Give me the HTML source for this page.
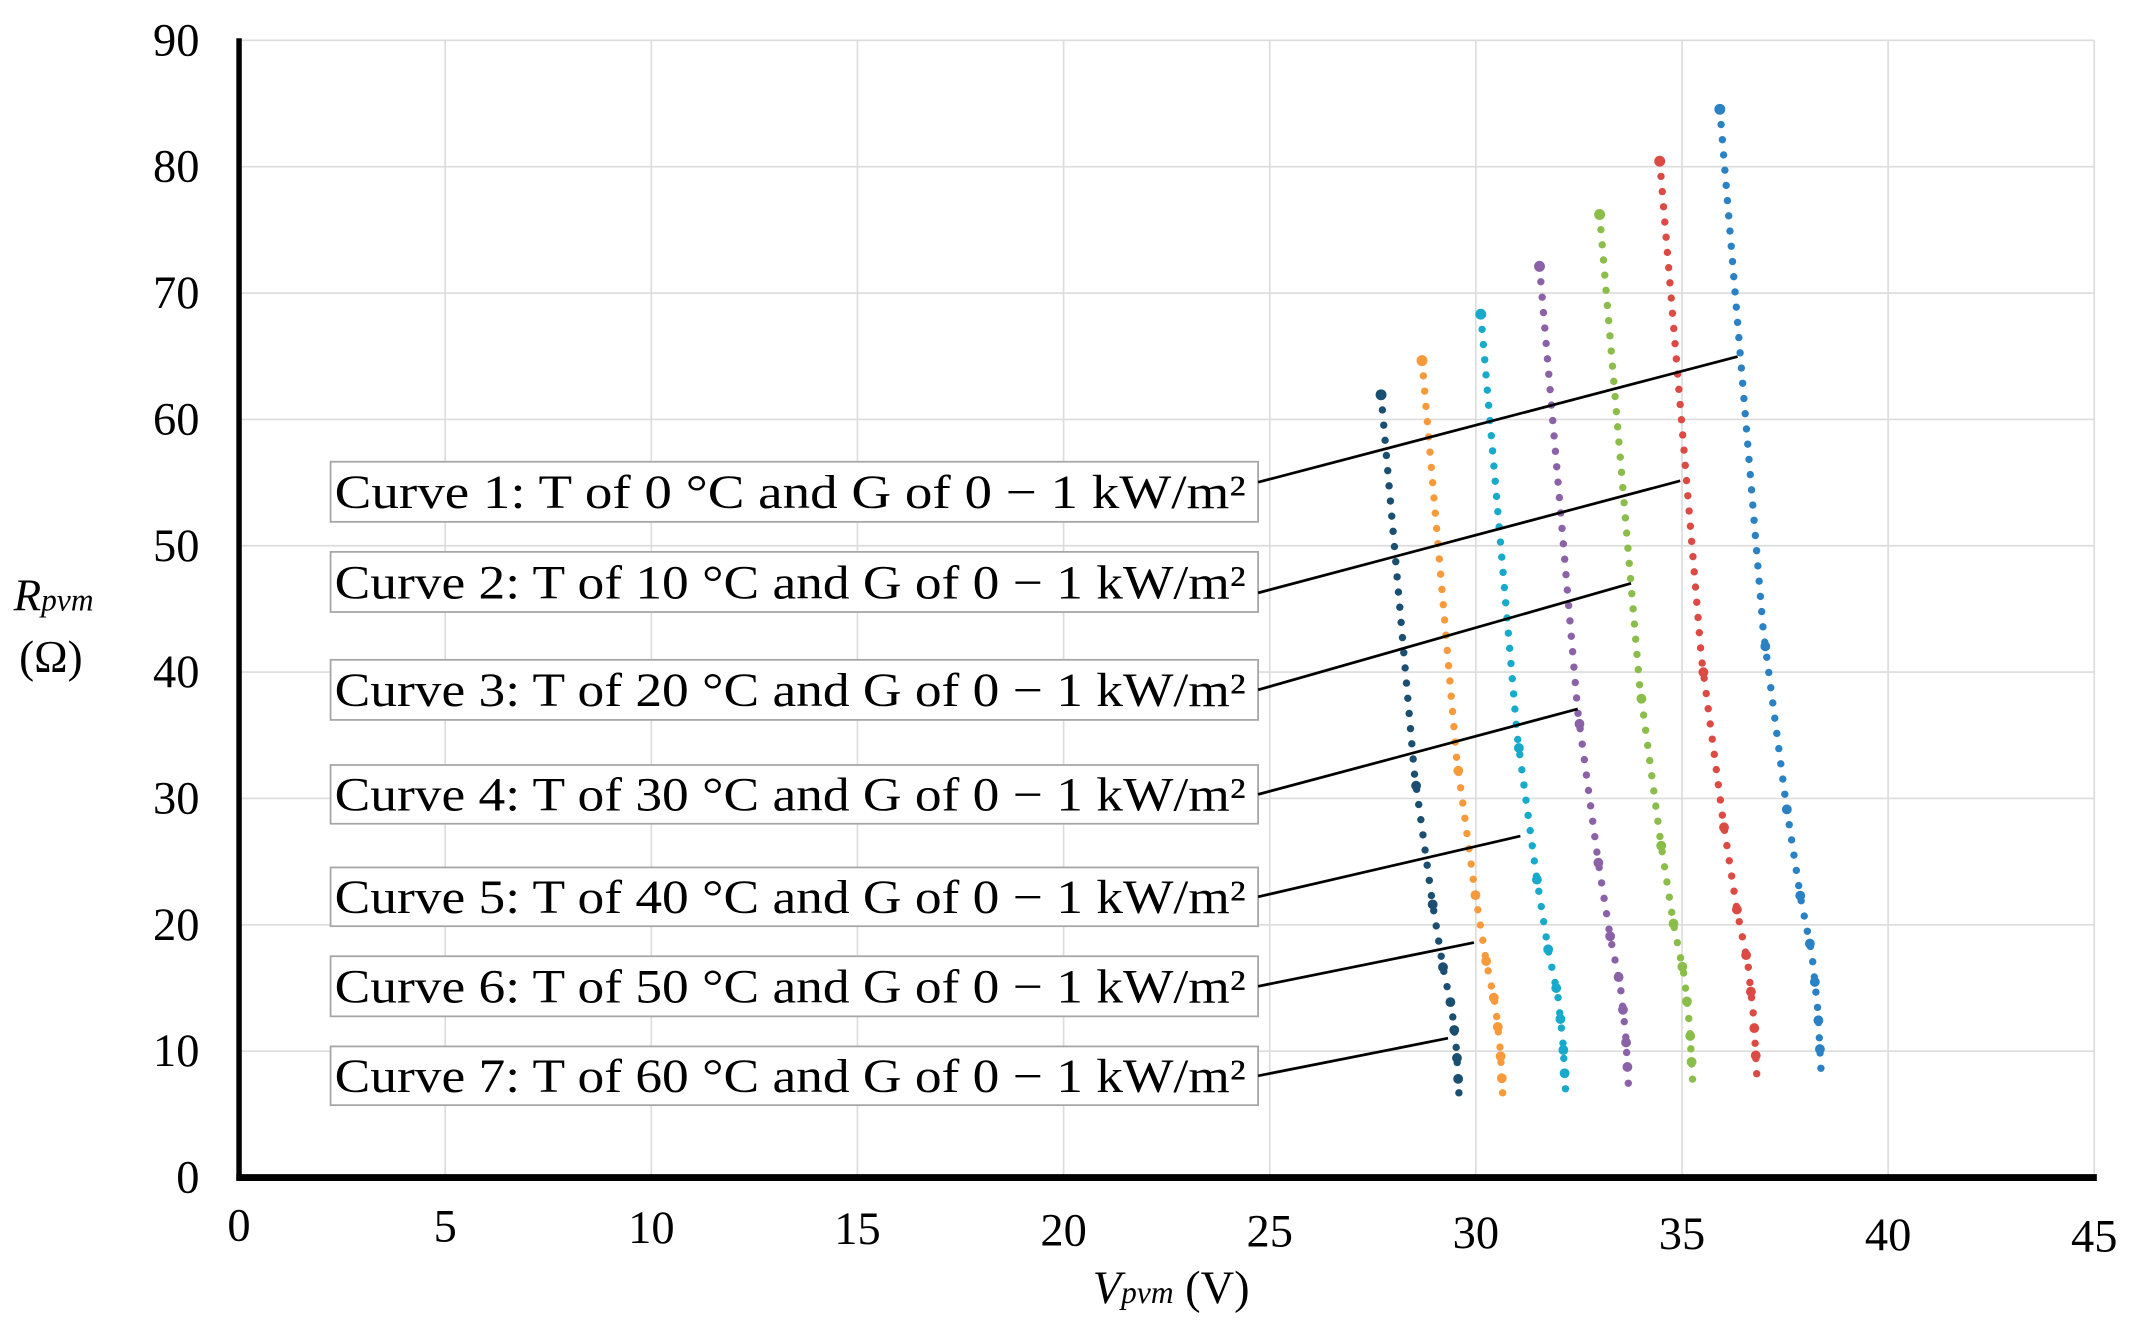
<!DOCTYPE html>
<html><head><meta charset="utf-8"><style>html,body{margin:0;padding:0;background:#fff}svg{display:block}</style></head>
<body>
<svg id="s" width="2131" height="1327" viewBox="0 0 1560 971.4" preserveAspectRatio="none" xmlns="http://www.w3.org/2000/svg" font-family="'Liberation Serif',serif">
<g id="grid" stroke="#dcdcdc" stroke-width="1.2"></g>
<g id="data"></g>
<g id="leg"></g>
<line x1="175" y1="28" x2="175" y2="864" stroke="#000" stroke-width="4"/>
<line x1="173" y1="862" x2="1535" y2="862" stroke="#000" stroke-width="5"/>
<g id="lab" font-size="34" fill="#000"></g>
<text x="10" y="447" font-size="33" font-style="italic">R<tspan font-size="23">pvm</tspan></text>
<text x="14" y="492" font-size="33">(Ω)</text>
<text x="800" y="954" font-size="34"><tspan font-style="italic">V</tspan><tspan font-style="italic" font-size="23">pvm</tspan> (V)</text>
</svg>
<script>
const NS="http://www.w3.org/2000/svg";
function el(p,t,a,txt){const e=document.createElementNS(NS,t);for(const k in a)e.setAttribute(k,a[k]);if(txt!==undefined)e.textContent=txt;document.getElementById(p).appendChild(e);return e;}
const X=v=>175+v*30.18, Y=v=>862-v*9.25;
for(let v=5;v<=45;v+=5)el("grid","line",{x1:X(v),y1:Y(90),x2:X(v),y2:862});
for(let v=10;v<=90;v+=10)el("grid","line",{x1:175,y1:Y(v),x2:1533,y2:Y(v)});
for(let v=0;v<=90;v+=10)el("lab","text",{x:146,y:Y(v)+11,"text-anchor":"end",textLength:(v==0?17:34),lengthAdjust:"spacingAndGlyphs"},v);
for(let v=0;v<=45;v+=5)el("lab","text",{x:X(v),y:908+v*0.18,"text-anchor":"middle"},v);
const curves=[["#1a4f72",1011,289,1068,800],["#f79a3c",1041,264,1100,800],["#17aacb",1084,230,1146,797],["#8b62a8",1127,195,1192,793],["#8bbd4a",1171,157,1239,790],["#dc4a44",1215,118,1286,786],["#2a82c4",1259,80,1333,782]];
const shape=[[0,0],[0.544,0.43],[0.728,0.66],[0.823,0.80],[0.88,0.91],[0.94,0.97],[1,1]];
function f(t){for(let i=1;i<shape.length;i++){if(t<=shape[i][0]){const a=shape[i-1],b=shape[i];return a[1]+(b[1]-a[1])*(t-a[0])/(b[0]-a[0]);}}return 1;}
curves.forEach(c=>{const [col,x0,y0,x1,y1]=c;const n=Math.round((y1-y0)/11.2);
 for(let i=0;i<=n;i++){const t=i/n;const y=y0+t*(y1-y0);const x=x0+f(t)*(x1-x0);el("data","circle",{cx:x,cy:y,r:2.7,fill:col});}
 el("data","circle",{cx:x0,cy:y0,r:4,fill:col});
 [0.56,0.73,0.82,0.87,0.91,0.95,0.98].forEach(t=>{const y=y0+t*(y1-y0);el("data","circle",{cx:x0+f(t)*(x1-x0),cy:y,r:3.6,fill:col});});
});
const boxes=[[338,382,1,0,1272,261],[404,448,2,10,1230,352],[483,527,3,20,1194,427],[560,603,4,30,1155,519],[635,678,5,40,1113,612],[700,744,6,50,1079,690],[766,809,7,60,1060,760]];
boxes.forEach(b=>{const [t,bt,n,T,lx,ly]=b;
 el("leg","rect",{x:242,y:t,width:679,height:bt-t,fill:"#fff",stroke:"#a6a6a6","stroke-width":1.3});
 const ym=(t+bt)/2;
 el("leg","line",{x1:921,y1:ym+(n==1?-7:(n==2?8:0)),x2:lx,y2:ly,stroke:"#000","stroke-width":2});
 const tx=el("leg","text",{x:245,y:ym+12,"font-size":35,textLength:667,lengthAdjust:"spacingAndGlyphs"});
 tx.textContent="Curve "+n+": T of "+T+" °C and G of 0 − 1 kW/m²";
});
</script>
</body></html>
